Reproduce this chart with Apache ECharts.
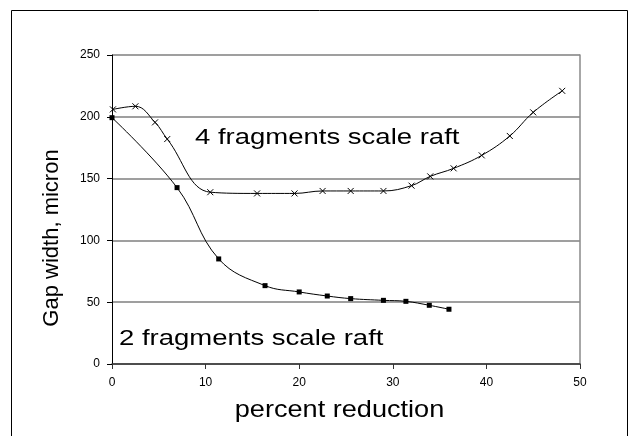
<!DOCTYPE html>
<html>
<head>
<meta charset="utf-8">
<script src="https://cdn.jsdelivr.net/npm/echarts@6/dist/echarts.min.js"></script>
<style>
  html, body { margin: 0; padding: 0; background: #fff; }
  #chart { width: 629px; height: 436px; }
</style>
</head>
<body>
<div id="chart"></div>
<script>
// ---- data ----
const xTicks = [0, 10, 20, 30, 40, 50];
const yTicks = [0, 50, 100, 150, 200, 250];

const fourFragX = [0.1, 2.5, 4.6, 5.9, 10.5, 15.5, 19.5, 22.5, 25.5, 29.0, 32.0, 34.0, 36.5, 39.5, 42.5, 45.0, 48.1];
const fourFragY = [206, 208.5, 195.5, 182, 139, 138, 138, 140, 140, 140, 144.3, 151.8, 158.3, 168.8, 184.5, 203.6, 221];

const twoFragX = [0, 6.95, 11.4, 16.35, 20.0, 23.0, 25.5, 29.0, 31.4, 33.9, 36.0];
const twoFragY = [199.3, 142.7, 85, 63.4, 58.3, 55, 52.9, 51.5, 50.7, 47.5, 44.3];

const xTitle = 'percent reduction';
const yTitle = 'Gap width, micron';
const label4 = '4 fragments scale raft';
const label2 = '2 fragments scale raft';

const pairs = (xs, ys) => xs.map((x, i) => [x, ys[i]]);

const chart = echarts.init(document.getElementById('chart'), null, { renderer: 'canvas' });
const FONT = '"Liberation Sans", Arial, sans-serif';

chart.setOption({
  animation: false,
  backgroundColor: '#fff',
  grid: { left: 112, right: 49, top: 55, bottom: 72 },
  xAxis: {
    type: 'value', min: xTicks[0], max: xTicks[xTicks.length - 1], interval: 10,
    axisLine: { show: true, onZero: false, lineStyle: { color: '#333', width: 1.5 } },
    axisTick: { show: true, inside: false, length: 5, lineStyle: { color: '#333' } },
    axisLabel: { color: '#000', fontSize: 12, fontFamily: FONT, margin: 13 },
    splitLine: { show: false }
  },
  yAxis: [{
    type: 'value', min: yTicks[0], max: yTicks[yTicks.length - 1], interval: 50,
    axisLine: { show: true, onZero: false, lineStyle: { color: '#000', width: 1 } },
    axisTick: { show: true, inside: false, length: 5, lineStyle: { color: '#000' } },
    axisLabel: { color: '#000', fontSize: 12, fontFamily: FONT, margin: 12 },
    splitLine: { show: true, lineStyle: { color: '#7f7f7f', width: 1.5 } }
  }, {
    type: 'value', min: yTicks[0], max: yTicks[yTicks.length - 1], interval: 50,
    position: 'right',
    axisLine: { show: true, onZero: false, lineStyle: { color: '#8a8a8a', width: 1.5 } },
    axisTick: { show: false }, axisLabel: { show: false }, splitLine: { show: false }
  }],
  series: [{
    name: label4, type: 'line', smooth: 0.4,
    data: pairs(fourFragX, fourFragY),
    symbol: 'path://M0,0L10,10M10,0L0,10', symbolSize: 6, showSymbol: true,
    lineStyle: { color: '#000', width: 1 },
    itemStyle: { color: '#000', borderColor: '#000', borderWidth: 1 },
    z: 3
  }, {
    name: label2, type: 'line', smooth: 0.4,
    data: pairs(twoFragX, twoFragY),
    symbol: 'rect', symbolSize: 5, showSymbol: true,
    lineStyle: { color: '#000', width: 1 },
    itemStyle: { color: '#000' },
    z: 3
  }],
  graphic: [
    { type: 'rect', shape: { x: 11.5, y: 10.5, width: 616, height: 440 },
      style: { fill: 'none', stroke: '#000', lineWidth: 1 }, silent: true, z: 0 },
    { type: 'text', x: 195, y: 138, scaleX: 1.25,
      style: { text: label4, font: '22px ' + FONT, fill: '#000', align: 'left', verticalAlign: 'middle' }, z: 5 },
    { type: 'text', x: 119, y: 339, scaleX: 1.25,
      style: { text: label2, font: '22px ' + FONT, fill: '#000', align: 'left', verticalAlign: 'middle' }, z: 5 },
    { type: 'text', x: 339.5, y: 410, scaleX: 1.13,
      style: { text: xTitle, font: '24px ' + FONT, fill: '#000', align: 'center', verticalAlign: 'middle' }, z: 5 },
    { type: 'text', x: 52, y: 238, rotation: Math.PI / 2,
      style: { text: yTitle, font: '22px ' + FONT, fill: '#000', align: 'center', verticalAlign: 'middle' }, z: 5 }
  ]
});
</script>
</body>
</html>
